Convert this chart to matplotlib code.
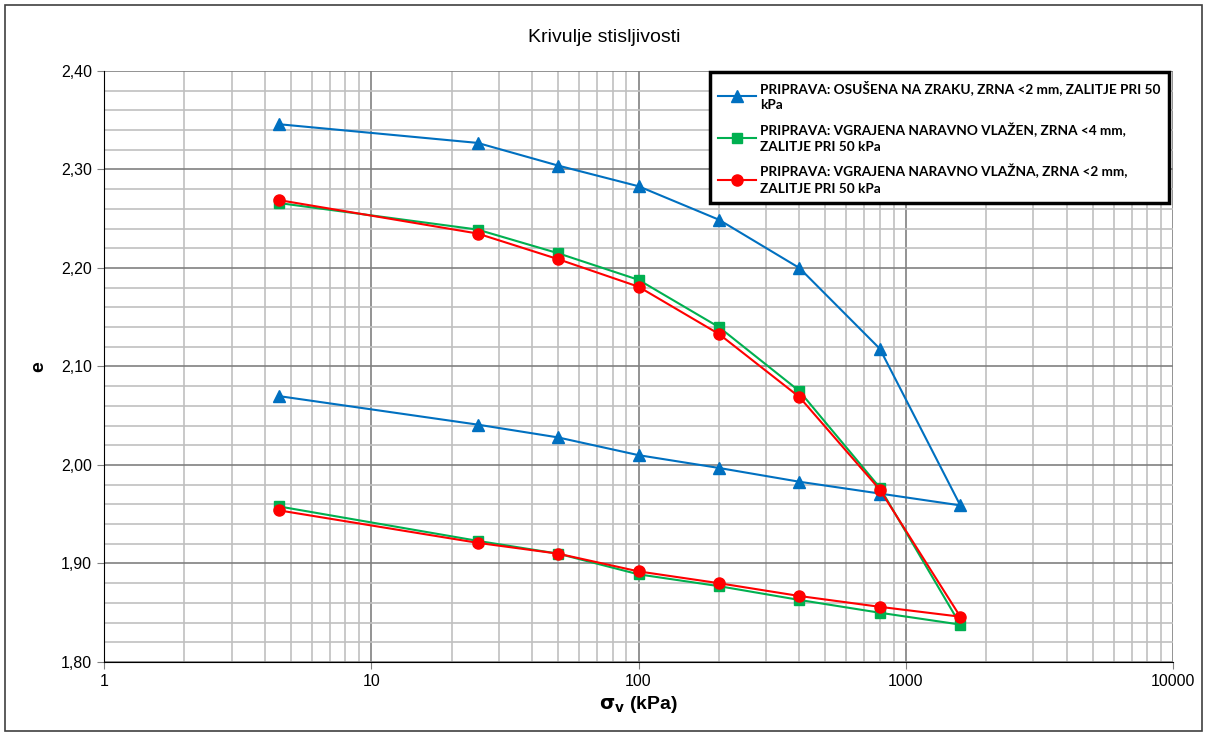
import matplotlib.pyplot as plt
from matplotlib.patches import Rectangle
from matplotlib.ticker import LogLocator, FixedLocator, NullFormatter

# load steps (kPa): loading to 1600 then unloading back
stress = [4.5, 25, 50, 100, 200, 400, 800, 1600, 800, 400, 200, 100, 50, 25, 4.5]

e_air_dried = [2.346, 2.327, 2.304, 2.283, 2.249, 2.200, 2.118, 1.959,
               1.971, 1.983, 1.997, 2.010, 2.028, 2.041, 2.070]
e_moist_4mm = [2.266, 2.239, 2.215, 2.188, 2.140, 2.075, 1.977, 1.838,
               1.850, 1.863, 1.877, 1.889, 1.910, 1.923, 1.958]
e_moist_2mm = [2.269, 2.235, 2.209, 2.181, 2.133, 2.069, 1.975, 1.846,
               1.856, 1.867, 1.880, 1.892, 1.910, 1.921, 1.954]

labels = ["PRIPRAVA: OSUŠENA NA ZRAKU, ZRNA <2 mm, ZALITJE PRI 50\nkPa",
          "PRIPRAVA: VGRAJENA NARAVNO VLAŽEN, ZRNA <4 mm,\nZALITJE PRI 50 kPa",
          "PRIPRAVA: VGRAJENA NARAVNO VLAŽNA, ZRNA <2 mm,\nZALITJE PRI 50 kPa"]

y_ticks = [1.80, 1.90, 2.00, 2.10, 2.20, 2.30, 2.40]
x_ticks = [1, 10, 100, 1000, 10000]

plt.rcParams['font.family'] = ['Liberation Sans', 'DejaVu Sans']

fig = plt.figure(figsize=(12.08, 7.35), dpi=100)
ax = fig.add_axes([104/1208, 1 - 662/735, (1173-104)/1208, (662-71)/735])

ax.plot(stress, e_air_dried, color='#0070c0', marker='^', markersize=8, lw=1.5, label=labels[0])
ax.plot(stress, e_moist_4mm, color='#00b050', marker='s', markersize=7.5, lw=1.5, label=labels[1])
ax.plot(stress, e_moist_2mm, color='#ff0000', marker='o', markersize=8, lw=1.5, label=labels[2])

ax.set_xscale('log')
ax.set_xlim(1, 10000)
ax.set_ylim(1.80, 2.40)

ax.xaxis.set_major_locator(FixedLocator(x_ticks))
ax.set_xticklabels([str(v) for v in x_ticks])
ax.xaxis.set_minor_locator(LogLocator(base=10, subs=range(2, 10)))
ax.xaxis.set_minor_formatter(NullFormatter())
ax.set_yticks(y_ticks)
ax.set_yticklabels([f"{v:.2f}".replace('.', ',') for v in y_ticks])
ax.set_yticks([1.80 + 0.02 * i for i in range(31)], minor=True)

ax.grid(which='major', color='#808080', lw=1.2)
ax.grid(which='minor', color='#c0c0c0', lw=1.2)
ax.set_axisbelow(True)
ax.tick_params(which='major', labelsize=11.5, length=5, color='#808080')
ax.tick_params(which='minor', length=0)
for side in ['top', 'right']:
    ax.spines[side].set_visible(False)
ax.spines['left'].set_color('black')
ax.spines['bottom'].set_color('black')

ax.set_xlabel(r"$\mathbf{\sigma_v}$ (kPa)", fontsize=14, fontweight='bold', labelpad=4)
ax.set_ylabel("e", fontsize=14, fontweight='bold', labelpad=10)
fig.text(0.5, 1 - 38/735, "Krivulje stisljivosti", ha='center', va='center', fontsize=14)

leg = ax.legend(loc='upper right', bbox_to_anchor=(0.9965, 1.0), borderaxespad=0.05, fancybox=False,
                framealpha=1, edgecolor='black', prop={'family': 'Lato', 'weight': 'bold', 'size': 9.8},
                handlelength=2.8, labelspacing=0.8, borderpad=0.6, handletextpad=0.3)
leg.get_frame().set_linewidth(2.5)
for t in leg.get_texts():
    t.set_linespacing(1.45)

fig.patches.append(Rectangle((5/1208, 4/735), 1197/1208, 726/735, transform=fig.transFigure,
                             fill=False, edgecolor='#404040', lw=1.2))

fig.savefig('out.png', dpi=100)
